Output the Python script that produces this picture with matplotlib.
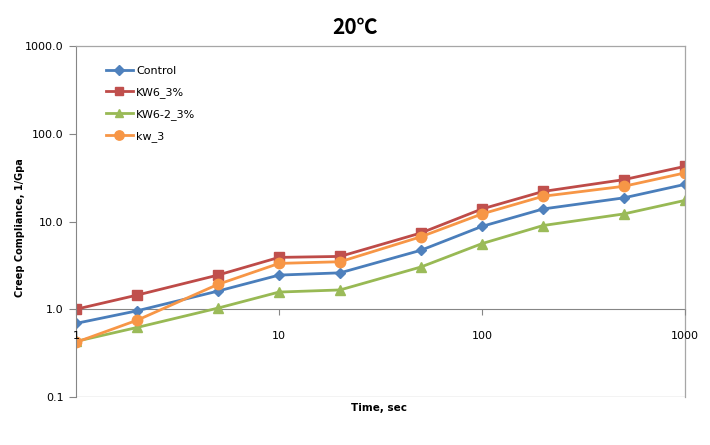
import matplotlib
matplotlib.use("Agg")
import matplotlib.pyplot as plt
from matplotlib.ticker import FixedLocator, FixedFormatter

# creep test at 20 C, time in seconds
time_s = [1, 2, 5, 10, 20, 50, 100, 200, 500, 1000]
control = [0.69, 0.96, 1.61, 2.45, 2.6, 4.7, 8.8, 13.9, 18.6, 26.5]
kw6_3 = [1.0, 1.45, 2.45, 3.9, 4.0, 7.4, 13.9, 22.0, 30.0, 42.5]
kw6_2_3 = [0.43, 0.62, 1.03, 1.57, 1.66, 3.03, 5.6, 9.0, 12.2, 17.4]
kw_3 = [0.42, 0.75, 1.92, 3.33, 3.48, 6.7, 12.2, 19.4, 25.2, 35.8]

series = ["Control", "KW6_3%", "KW6-2_3%", "kw_3"]
y_ticks = [0.1, 1, 10, 100, 1000]
y_tick_labels = ["0.1", "1.0", "10.0", "100.0", "1000.0"]
x_ticks = [1, 10, 100, 1000]
x_tick_labels = ["1", "10", "100", "1000"]

fig = plt.figure(figsize=(7.1, 4.45), dpi=100)
ax = fig.add_axes([76 / 710, 1 - 397 / 445, (685 - 76) / 710, (397 - 46) / 445])

styles = [
    (control, "#4A7EBB", "#4F81BD", "D", 5.5),
    (kw6_3, "#BE4B48", "#C0504D", "s", 6.5),
    (kw6_2_3, "#98B954", "#9BBB59", "^", 7),
    (kw_3, "#F79646", "#F79646", "o", 7.5),
]
for (vals, lc, mc, mk, ms), name in zip(styles, series):
    ax.plot(time_s, vals, color=lc, lw=2.0, marker=mk, ms=ms,
            mfc=mc, mec=mc, label=name)

ax.set_xscale("log")
ax.set_yscale("log")
ax.set_xlim(1, 1000)
ax.set_ylim(0.1, 1000)

# frame of the plot area, x axis crosses at 1.0
for side in ["top", "right"]:
    ax.spines[side].set_color("#A6A6A6")
    ax.spines[side].set_linewidth(0.9)
ax.spines["left"].set_color("#868686")
ax.spines["bottom"].set_color("#868686")
ax.spines["bottom"].set_position(("data", 1))
ax.spines["bottom"].set_zorder(1)
ax.axhline(0.1, color="#A6A6A6", lw=0.9, zorder=0)

ax.yaxis.set_major_locator(FixedLocator(y_ticks))
ax.yaxis.set_major_formatter(FixedFormatter(y_tick_labels))
ax.yaxis.set_minor_locator(FixedLocator([]))
ax.xaxis.set_major_locator(FixedLocator(x_ticks))
ax.xaxis.set_major_formatter(FixedFormatter(x_tick_labels))
ax.xaxis.set_minor_locator(FixedLocator([]))
ax.xaxis.set_zorder(3)  # "1" label sits on top of the markers
ax.tick_params(axis="y", direction="out", length=5, color="#868686",
               labelsize=8, pad=4)
ax.tick_params(axis="x", direction="out", length=4, color="#868686",
               labelsize=8, pad=12)

fig.text(355 / 710, 1 - 28 / 445, "20℃", ha="center", va="center",
         fontsize=15, fontweight="bold",
         family=["Noto Sans CJK SC", "DejaVu Sans"])
fig.text(20 / 710, 1 - 228 / 445, "Creep Compliance, 1/Gpa", rotation=90,
         ha="center", va="center", fontsize=7, fontweight="bold")
fig.text(379 / 710, 1 - 408 / 445, "Time, sec", ha="center", va="center",
         fontsize=7.5, fontweight="bold")

ax.legend(loc="upper left", bbox_to_anchor=(106 / 710, 1 - 66 / 445),
          bbox_transform=fig.transFigure, frameon=False, fontsize=8,
          handlelength=2.4, handletextpad=0.3, labelspacing=1.0,
          borderpad=0, borderaxespad=0, markerscale=0.9)

fig.savefig("out.png", dpi=100)
